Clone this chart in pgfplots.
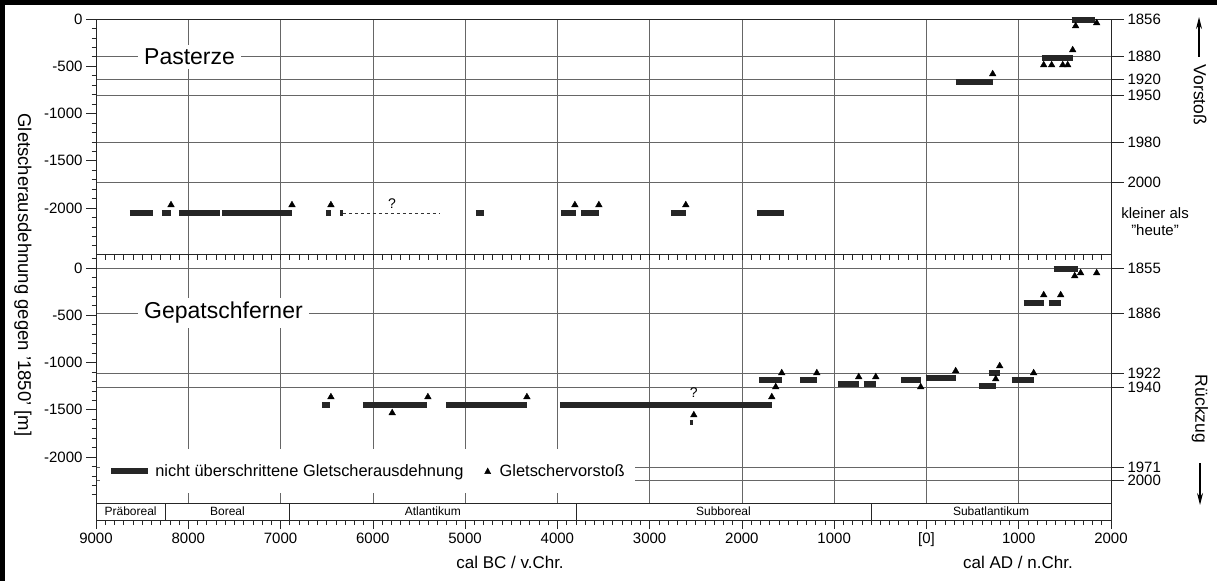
\documentclass[border=0pt]{standalone}
\usepackage{fontspec}
\setmainfont{Liberation Sans}
\usepackage{pgfplots}
\pgfplotsset{compat=1.18}
\usetikzlibrary{arrows.meta}

\pgfplotsset{
  gpanel/.style={scale only axis, width=1015pt, xmin=-9000, xmax=2000,
    anchor=south west, axis line style={black!85, line width=0.7pt},
    tick style={black!85, line width=0.6pt},
    grid style={black!60, line width=0.6pt},
    ticklabel style={font=\fontsize{15}{18}\selectfont},
    clip=false},
  rightax/.style={gpanel, axis x line=none, axis y line*=right, ymajorgrids,
    tick align=outside, major tick length=13pt},
  leftax/.style={gpanel, xtick={-9000,-8000,...,2000}, xticklabels={},
    xmajorgrids, x tick style={draw=none},
    ytick={0,-500,-1000,-1500,-2000}, yticklabels={0,-500,-1000,-1500,-2000},
    ytick pos=left, tick align=outside,
    major tick length=10pt, minor tick length=4.5pt},
  gbar/.style={black!85, line width=6pt, line cap=butt, forget plot},
  gtri/.style={only marks, mark=triangle*, mark size=3.8pt, black, forget plot},
}
\tikzset{plabel/.style={fill=white, anchor=west, inner xsep=6pt, inner ysep=4pt,
    font=\fontsize{23}{26}\selectfont}}

\begin{document}
\begin{tikzpicture}

% ---------- Pasterze ----------
\begin{axis}[rightax, at={(96pt,327pt)}, height=235pt, ymin=-2487, ymax=0,
  ytick={0,-396,-642,-808,-1306,-1729},
  yticklabels={1856,1880,1920,1950,1980,2000}]
\end{axis}

\begin{axis}[leftax, at={(96pt,327pt)}, height=235pt, ymin=-2487, ymax=0,
  minor ytick={-2400,-2300,...,-100}]
\node[plabel] at (axis cs:-8545,-400) {Pasterze};
\addplot[gbar] coordinates {(-8632,-2053) (-8382,-2053)};
\addplot[gbar] coordinates {(-8285,-2053) (-8187,-2053)};
\addplot[gbar] coordinates {(-8101,-2053) (-7657,-2053)};
\addplot[gbar] coordinates {(-7635,-2053) (-6876,-2053)};
\addplot[gbar] coordinates {(-6508,-2053) (-6454,-2053)};
\addplot[gbar] coordinates {(-6357,-2053) (-6324,-2053)};
\addplot[black!80, dashed, line width=0.6pt, forget plot] coordinates {(-6324,-2053) (-5273,-2053)};
\addplot[gbar] coordinates {(-4883,-2053) (-4796,-2053)};
\addplot[gbar] coordinates {(-3962,-2053) (-3800,-2053)};
\addplot[gbar] coordinates {(-3745,-2053) (-3550,-2053)};
\addplot[gbar] coordinates {(-2770,-2053) (-2608,-2053)};
\addplot[gbar] coordinates {(-1839,-2053) (-1546,-2053)};
\addplot[gbar] coordinates {(317,-667) (718,-667)};
\addplot[gbar] coordinates {(1249,-413) (1585,-413)};
\addplot[gbar] coordinates {(1574,-10) (1824,-10)};
\addplot[gtri] coordinates {
  (-8187,-1968) (-6876,-1968) (-6454,-1968) (-3810,-1968) (-3550,-1968)
  (-2608,-1968) (718,-582) (1271,-487) (1357,-487) (1477,-487) (1531,-487)
  (1585,-328) (1617,-74) (1845,-42)};
\node[font=\fontsize{14}{16}\selectfont] at (axis cs:-5793,-1950) {?};
\end{axis}

% ---------- Gepatschferner ----------
\begin{axis}[rightax, at={(96pt,78pt)}, height=249pt, ymin=-2487, ymax=148,
  ytick={0,-476,-1111,-1262,-2106,-2243},
  yticklabels={1855,1886,1922,1940,1971,2000}]
\end{axis}

\begin{axis}[leftax, at={(96pt,78pt)}, height=249pt, ymin=-2487, ymax=148,
  minor ytick={-2400,-2300,...,100},
  legend style={at={(axis cs:-8955,-2148)}, anchor=west, draw=none, fill=white,
    font=\fontsize{16.4}{19}\selectfont, legend columns=2,
    inner xsep=8pt, inner ysep=13pt,
    /tikz/every even column/.append style={column sep=19pt}},
  legend cell align=left]
\node[plabel] at (axis cs:-8545,-476) {Gepatschferner};
\addplot[black!85, line width=6pt, line cap=butt,
  legend image code/.code={\draw[black!85, line width=6pt] (0pt,0pt) -- (37pt,0pt);
    \path[draw=none] (0pt,0pt) -- (42pt,0pt);}]
  coordinates {(-6551,-1450) (-6465,-1450)};
\addlegendentry{nicht überschrittene Gletscherausdehnung}
\addplot[only marks, mark=triangle*, mark size=3.8pt, black,
  legend image code/.code={\fill[black] (0pt,-2.6pt) -- (6pt,-2.6pt) -- (3pt,3pt) -- cycle;
    \path[draw=none] (0pt,0pt) -- (13pt,0pt);}]
  coordinates {(-6454,-1365) (-5790,-1534) (-5403,-1365) (-4330,-1365)
  (-2521,-1556) (-1676,-1365) (-1633,-1259) (-1568,-1111) (-1188,-1111)
  (-734,-1153) (-549,-1153) (-62,-1259) (317,-1090) (751,-1175) (794,-1037)
  (1162,-1111) (1271,-286) (1455,-286) (1607,-85) (1671,-53) (1845,-53)};
\addlegendentry{Gletschervorstoß}
\addplot[gbar] coordinates {(-6107,-1450) (-5414,-1450)};
\addplot[gbar] coordinates {(-5208,-1450) (-4330,-1450)};
\addplot[gbar] coordinates {(-3973,-1450) (-1676,-1450)};
\addplot[gbar, line width=5pt] coordinates {(-2565,-1640) (-2525,-1640)};
\addplot[gbar] coordinates {(-1817,-1185) (-1568,-1185)};
\addplot[gbar] coordinates {(-1373,-1185) (-1188,-1185)};
\addplot[gbar] coordinates {(-961,-1228) (-734,-1228)};
\addplot[gbar] coordinates {(-680,-1228) (-549,-1228)};
\addplot[gbar] coordinates {(-278,-1185) (-62,-1185)};
\addplot[gbar] coordinates {(-8,-1164) (317,-1164)};
\addplot[gbar] coordinates {(567,-1249) (751,-1249)};
\addplot[gbar] coordinates {(675,-1111) (794,-1111)};
\addplot[gbar] coordinates {(924,-1185) (1162,-1185)};
\addplot[gbar] coordinates {(1054,-370) (1271,-370)};
\addplot[gbar] coordinates {(1325,-370) (1455,-370)};
\addplot[gbar] coordinates {(1379,-10) (1639,-10)};
\node[font=\fontsize{14}{16}\selectfont] at (axis cs:-2521,-1315) {?};
\end{axis}

% ticks on the border between the panels
\begin{axis}[gpanel, at={(96pt,78pt)}, height=249pt, ymin=0, ymax=1,
  axis y line=none, axis x line*=top, xtick={-9000,-8000,...,2000},
  xticklabels={}, minor x tick num=9, tick align=inside,
  major tick length=6pt, minor tick length=6pt]
\end{axis}

% ---------- period strip ----------
\begin{axis}[gpanel, at={(96pt,61pt)}, height=17pt, ymin=0, ymax=1, ytick=\empty,
  xtick={-9000,-8000,...,2000},
  xticklabels={9000,8000,7000,6000,5000,4000,3000,2000,1000,{[0]},1000,2000},
  minor x tick num=9, xtick pos=bottom, tick align=outside,
  major tick length=9pt, minor tick length=5pt]
\draw[black!85, line width=0.6pt] (axis cs:-8250,0) -- (axis cs:-8250,1);
\draw[black!85, line width=0.6pt] (axis cs:-6900,0) -- (axis cs:-6900,1);
\draw[black!85, line width=0.6pt] (axis cs:-3800,0) -- (axis cs:-3800,1);
\draw[black!85, line width=0.6pt] (axis cs:-600,0) -- (axis cs:-600,1);
\node[font=\fontsize{12}{14}\selectfont] at (axis cs:-8625,0.5) {Präboreal};
\node[font=\fontsize{12}{14}\selectfont] at (axis cs:-7575,0.5) {Boreal};
\node[font=\fontsize{12}{14}\selectfont] at (axis cs:-5350,0.5) {Atlantikum};
\node[font=\fontsize{12}{14}\selectfont] at (axis cs:-2200,0.5) {Subboreal};
\node[font=\fontsize{12}{14}\selectfont] at (axis cs:700,0.5) {Subatlantikum};
\end{axis}

% ---------- texts around ----------
\node[font=\fontsize{17}{20}\selectfont] at (510pt,19pt) {cal BC / v.Chr.};
\node[font=\fontsize{17}{20}\selectfont] at (1018pt,19pt) {cal AD / n.Chr.};
\node[rotate=-90, font=\fontsize{18.5}{22}\selectfont] at (23pt,306pt)
  {Gletscherausdehnung gegen '1850' [m]};
\node[align=center, font=\fontsize{15}{17}\selectfont, inner sep=0pt] at (1155pt,359pt)
  {kleiner als\\"heute"};
\node[rotate=-90, font=\fontsize{17.5}{20}\selectfont] at (1200pt,486pt) {Vorstoß};
\node[rotate=-90, font=\fontsize{17.5}{20}\selectfont] at (1200pt,172pt) {Rückzug};
\draw[line width=1.2pt, -{Stealth[length=12pt,width=6pt]}] (1199pt,524pt) -- (1199pt,564pt);
\draw[line width=1.2pt, -{Stealth[length=12pt,width=6pt]}] (1200pt,118pt) -- (1200pt,76pt);
\fill[black] (0pt,0pt) rectangle (5pt,581pt);
\fill[black] (0pt,576pt) rectangle (1217pt,581pt);
\pgfresetboundingbox
\path[use as bounding box] (0pt,0pt) rectangle (1217pt,581pt);
\end{tikzpicture}
\end{document}
